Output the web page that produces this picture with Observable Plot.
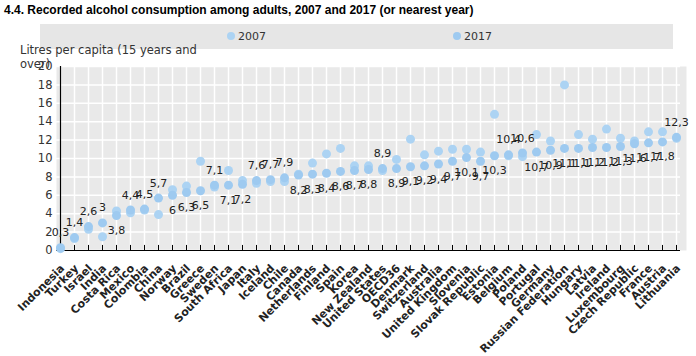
<!DOCTYPE html>
<html>
<head>
<meta charset="utf-8">
<script src="https://cdn.jsdelivr.net/npm/d3@7"></script>
<script src="https://cdn.jsdelivr.net/npm/@observablehq/plot@0.6"></script>
<style>
  body { margin: 0; background: #fff; font-family: "DejaVu Sans", sans-serif; }
  #wrap { position: relative; width: 696px; height: 356px; overflow: hidden; }
  #chart { position: absolute; left: 0; top: 0; }
  #title { position: absolute; left: 4px; top: 3px; font: bold 12px "Liberation Sans", Arial, sans-serif; color: #000; white-space: nowrap; }
  #legend { position: absolute; left: 40px; top: 24px; width: 633px; height: 25px; background: #e6e6e6; }
  .item { position: absolute; top: 5px; font-size: 11px; color: #333; line-height: 15px; white-space: nowrap; }
  .dot { display: inline-block; width: 8px; height: 8px; border-radius: 50%; margin-right: 3px; vertical-align: 0px; }
  #ylab { position: absolute; left: 20px; top: 43px; font-size: 11.5px; color: #333; line-height: 14px; white-space: nowrap; }
</style>
</head>
<body>
<div id="wrap">
  <div id="chart"></div>
  <div id="title"></div>
  <div id="legend"></div>
  <div id="ylab"></div>
</div>
<script>
const titleText = "4.4. Recorded alcohol consumption among adults, 2007 and 2017 (or nearest year)";
const yLabelLines = ["Litres per capita (15 years and", "over)"];
const seriesNames = ["2007", "2017"];
const seriesColors = ["#acd3f3", "#9ecaf0"];

const countries = ["Indonesia","Turkey","Israel","India","Costa Rica","Mexico","Colombia","China","Norway","Brazil",
  "Greece","Sweden","South Africa","Japan","Italy","Iceland","Chile","Canada","Netherlands","Finland",
  "Spain","Korea","New Zealand","United States","OECD36","Denmark","Switzerland","Australia","United Kingdom","Slovenia",
  "Slovak Republic","Estonia","Belgium","Poland","Portugal","Germany","Russian Federation","Hungary","Latvia","Ireland",
  "Luxembourg","Czech Republic","France","Austria","Lithuania"];

const values2007 = [0.2,1.3,2.3,1.5,4.3,4.1,4.4,3.9,6.6,7.0,
  9.7,6.9,8.7,7.6,7.3,7.5,7.5,8.3,9.5,10.5,
  11.1,9.2,9.2,8.7,9.9,12.1,10.4,10.8,11.0,11.0,
  10.7,14.8,10.3,10.2,12.6,11.9,18.0,12.6,12.1,13.2,
  12.2,11.9,12.9,12.9,12.2];

const values2017 = [0.3,1.4,2.6,3.0,3.8,4.4,4.5,5.7,6.0,6.3,
  6.5,7.1,7.1,7.2,7.6,7.7,7.9,8.2,8.3,8.4,
  8.6,8.7,8.8,8.9,8.9,9.1,9.2,9.4,9.7,10.1,
  9.7,10.3,10.4,10.6,10.7,10.9,11.1,11.1,11.2,11.2,
  11.3,11.6,11.7,11.8,12.3];

const yTicks = [0,2,4,6,8,10,12,14,16,18,20];

const rows = countries.map((c, i) => ({country: c, v2007: values2007[i], v2017: values2017[i]}));
const fmt = v => String(v).replace(".", ",");
const up = rows.filter(d => d.v2017 >= d.v2007);
const down = rows.filter(d => d.v2017 < d.v2007);

document.getElementById("title").textContent = titleText;
document.getElementById("ylab").innerHTML = yLabelLines.join("<br>");
const legend = document.getElementById("legend");
const legendX = [187, 413];
seriesNames.forEach((s, i) => {
  const el = document.createElement("div");
  el.className = "item";
  el.style.left = legendX[i] + "px";
  el.innerHTML = `<span class="dot" style="background:${seriesColors[i]}"></span>${s}`;
  legend.appendChild(el);
});

const chart = Plot.plot({
  width: 696,
  height: 356,
  marginTop: 66,
  marginBottom: 106,
  marginLeft: 56,
  marginRight: 16,
  style: {fontFamily: "DejaVu Sans", fontSize: "11px", color: "#222", background: "transparent", overflow: "visible"},
  x: {type: "point", domain: countries, padding: 0, label: null},
  y: {domain: [0, 20], label: null},
  marks: [
    Plot.frame({fill: "#e9e9e9", stroke: "none", insetRight: -6}),
    Plot.gridY(yTicks, {stroke: "#fff", strokeOpacity: 1, strokeWidth: 1.5}),
    Plot.gridX(countries, {stroke: "#fff", strokeOpacity: 1, strokeWidth: 1.5}),
    Plot.ruleX([countries[0]], {stroke: "#000", strokeWidth: 1.2}),
    Plot.ruleY([0], {stroke: "#000", strokeWidth: 1.2}),
    Plot.ruleX(countries, {x: d => d, y1: 0, y2: 0.55, stroke: "#000"}),
    Plot.axisY(yTicks, {tickSize: 0, tickPadding: 4, fontSize: 11.5, fill: "#333"}),
    Plot.axisX({tickSize: 0, tickRotate: -45, tickPadding: 12, dx: 2, dy: 4, fontWeight: "bold", fontSize: 11, fill: "#222"}),
    Plot.dot(rows, {x: "country", y: "v2007", r: 4.5, fill: seriesColors[0]}),
    Plot.dot(rows, {x: "country", y: "v2017", r: 4.5, fill: seriesColors[1]}),
    Plot.text(up, {x: "country", y: "v2017", text: d => fmt(d.v2017), dy: -15, fontSize: 11, fill: "#222"}),
    Plot.text(down, {x: "country", y: "v2017", text: d => fmt(d.v2017), dy: 15, fontSize: 11, fill: "#222"})
  ]
});
document.getElementById("chart").appendChild(chart);
</script>
</body>
</html>
